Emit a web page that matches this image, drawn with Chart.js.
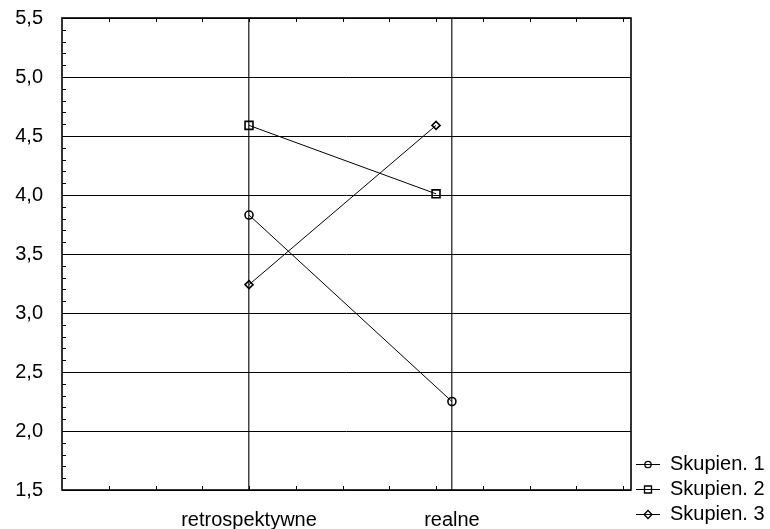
<!DOCTYPE html>
<html>
<head>
    <meta charset="utf-8">
    <title>Skupienia</title>
    <script src="https://cdn.jsdelivr.net/npm/chart.js"></script>
    <style>
        html, body {
            margin: 0;
            padding: 0;
            background-color: #fff;
        }
        canvas {
            display: block;
        }
    </style>
</head>
<body>
<canvas id="cluster_chart" width="770" height="529"></canvas>

<script>
// categories sit on a linear axis measured in minor-tick steps
const categories = ['retrospektywne', 'realne'];
const categoryX = [4, 8.34];
const xMax = 12.17;

const seriesNames = ['Skupien. 1', 'Skupien. 2', 'Skupien. 3'];
const skupien1X = [4, 8.34];
const skupien1 = [3.83, 2.25];
const skupien2X = [4, 8];
const skupien2 = [4.59, 4.01];
const skupien3X = [4, 8];
const skupien3 = [3.24, 4.59];

const yMin = 1.5;
const yMax = 5.5;
const yStep = 0.5;

const FONT = "'Liberation Sans', Arial, sans-serif";

function toPoints(xs, ys) {
    return xs.map((x, i) => ({x: x, y: ys[i]}));
}

// little line-with-marker icons for the legend
function legendIcon(kind) {
    const c = document.createElement('canvas');
    c.width = 24;
    c.height = 12;
    const g = c.getContext('2d');
    g.strokeStyle = '#000';
    g.lineWidth = 1;
    g.beginPath();
    g.moveTo(0, 6.5);
    g.lineTo(24, 6.5);
    g.stroke();
    g.lineWidth = 1.3;
    g.beginPath();
    if (kind === 'circle') {
        g.arc(12, 6.5, 3.2, 0, Math.PI * 2);
    } else if (kind === 'rect') {
        g.rect(8.5, 3, 7, 7);
    } else {
        g.moveTo(12, 2.5);
        g.lineTo(16, 6.5);
        g.lineTo(12, 10.5);
        g.lineTo(8, 6.5);
        g.closePath();
    }
    g.stroke();
    return c;
}

const legendIcons = [legendIcon('circle'), legendIcon('rect'), legendIcon('rectRot')];

const frameAndTicks = {
    id: 'frameAndTicks',
    beforeDatasetsDraw(chart) {
        const {ctx, chartArea: a, scales: {x, y}} = chart;
        ctx.save();
        ctx.strokeStyle = '#000';
        ctx.lineWidth = 1;
        ctx.beginPath();
        for (let v = 1; v < xMax; v++) {
            const px = Math.round(x.getPixelForValue(v)) + 0.5;
            ctx.moveTo(px, a.bottom);
            ctx.lineTo(px, a.bottom - 4);
            ctx.moveTo(px, a.top);
            ctx.lineTo(px, a.top + 4);
        }
        for (let i = 1; i < 40; i++) {
            const py = Math.round(y.getPixelForValue(yMin + i / 10)) + 0.5;
            ctx.moveTo(a.left, py);
            ctx.lineTo(a.left + 4, py);
        }
        ctx.stroke();
        ctx.lineWidth = 1.6;
        ctx.strokeRect(a.left, a.top, a.right - a.left, a.bottom - a.top);
        ctx.restore();
    }
};

const ctx = document.getElementById('cluster_chart').getContext('2d');
new Chart(ctx, {
    type: 'line',
    data: {
        datasets: [
            {
                label: seriesNames[0],
                data: toPoints(skupien1X, skupien1),
                pointStyle: 'circle',
                pointRadius: 4
            },
            {
                label: seriesNames[1],
                data: toPoints(skupien2X, skupien2),
                pointStyle: 'rect',
                pointRadius: 5.6
            },
            {
                label: seriesNames[2],
                data: toPoints(skupien3X, skupien3),
                pointStyle: 'rectRot',
                pointRadius: 4
            }
        ].map(ds => Object.assign(ds, {
            borderColor: '#000',
            borderWidth: 1,
            pointBorderColor: '#000',
            pointBackgroundColor: 'rgba(0,0,0,0)',
            pointBorderWidth: 1.6,
            tension: 0
        }))
    },
    options: {
        responsive: false,
        animation: false,
        layout: {
            padding: {top: 18, right: 0, bottom: 0, left: 0}
        },
        scales: {
            x: {
                type: 'linear',
                min: 0,
                max: xMax,
                afterFit: scale => { scale.height = 39; },
                afterBuildTicks: scale => {
                    scale.ticks = categoryX.map(v => ({value: v}));
                },
                grid: {
                    color: '#444',
                    lineWidth: 1.5,
                    drawTicks: false
                },
                border: {display: false},
                ticks: {
                    autoSkip: false,
                    maxRotation: 0,
                    padding: 18,
                    color: '#000',
                    font: {family: FONT, size: 20},
                    callback: (value, index) => categories[index]
                }
            },
            y: {
                min: yMin,
                max: yMax,
                afterFit: scale => {
                    scale.width = 62;
                    scale.paddingTop = 0;
                    scale.paddingBottom = 0;
                },
                grid: {
                    color: '#000',
                    lineWidth: 1,
                    drawTicks: false
                },
                border: {display: false},
                ticks: {
                    stepSize: yStep,
                    padding: 19,
                    color: '#000',
                    font: {family: FONT, size: 20},
                    callback: value => value.toFixed(1).replace('.', ',')
                }
            }
        },
        plugins: {
            tooltip: {enabled: false},
            legend: {
                position: 'right',
                align: 'end',
                maxWidth: 139,
                labels: {
                    usePointStyle: true,
                    pointStyleWidth: 24,
                    boxHeight: 12,
                    padding: 5,
                    color: '#000',
                    font: {family: FONT, size: 20},
                    generateLabels: chart => chart.data.datasets.map((ds, i) => ({
                        text: ds.label,
                        pointStyle: legendIcons[i],
                        datasetIndex: i,
                        fontColor: '#000',
                        fillStyle: '#fff',
                        strokeStyle: '#000',
                        lineWidth: 0,
                        hidden: false
                    }))
                }
            }
        }
    },
    plugins: [frameAndTicks]
});
</script>
</body>
</html>
